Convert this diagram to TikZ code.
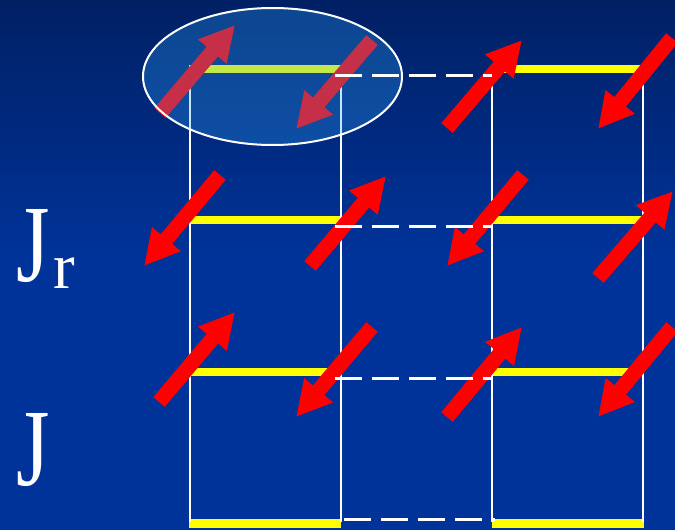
\documentclass[tikz,border=0pt]{standalone}
\usepackage{fontspec}
\setmainfont{Liberation Serif}
\usetikzlibrary{arrows.meta}
\definecolor{bgtop}{RGB}{0,32,100}
\definecolor{bgbot}{RGB}{0,51,153}
\definecolor{spinred}{RGB}{255,0,0}
\definecolor{rungyellow}{RGB}{255,255,0}
\definecolor{lensfill}{RGB}{50,170,255}
\begin{document}
\begin{tikzpicture}[x=1pt,y=-1pt,
  rail/.style={draw=white, line width=2pt},
  rung/.style={draw=rungyellow, line width=8.5pt},
  bond/.style={draw=white, line width=3pt, dash pattern=on 27pt off 10pt},
  spin/.style={draw=spinred, line width=15pt, -{Triangle[length=35pt,width=35pt]}},
  label/.style={text=white, inner sep=0pt, anchor=base west}]
% background
\fill[bgbot] (0,0) rectangle (675,530);
\shade[top color=bgtop, bottom color=bgbot] (0,0) rectangle (675,260);
\useasboundingbox (0,0) rectangle (675,530);
% rails
\foreach \n/\x in {a/190,b/341,c/492,d/643}{
  \coordinate (\n top) at (\x,80);
  \coordinate (\n bot) at (\x,522);
}
% rung ends
\foreach \r/\y in {1/69,2/220,3/372,4/523.5}{
  \coordinate (ra\r) at (189,\y);
  \coordinate (rb\r) at (341,\y);
  \coordinate (rc\r) at (492,\y);
  \coordinate (rd\r) at (644,\y);
}
% bond ends
\foreach \r/\y in {1/75,2/226,3/378}{
  \coordinate (ba\r) at (335,\y);
  \coordinate (bb\r) at (492,\y);
}
\coordinate (ba4) at (344,519);
\coordinate (bb4) at (495,519);
% spin tails and tips
\coordinate (s1a) at (160,113); \coordinate (t1a) at (235,25);
\coordinate (s1b) at (372,40);  \coordinate (t1b) at (296,129);
\coordinate (s1c) at (447,128); \coordinate (t1c) at (522,40);
\coordinate (s1d) at (672,38);  \coordinate (t1d) at (598,129);
\coordinate (s2a) at (220,175); \coordinate (t2a) at (144,266);
\coordinate (s2b) at (310,266); \coordinate (t2b) at (386,176);
\coordinate (s2c) at (523,175); \coordinate (t2c) at (447,266);
\coordinate (s2d) at (598,278); \coordinate (t2d) at (673,191);
\coordinate (s3a) at (159,402); \coordinate (t3a) at (235,312);
\coordinate (s3b) at (372,327); \coordinate (t3b) at (296,417);
\coordinate (s3c) at (447,417); \coordinate (t3c) at (522,327);
\coordinate (s3d) at (672,327); \coordinate (t3d) at (598,417);
\coordinate (lensc) at (272.5,76.5);
% drawing
\foreach \r in {1,2,3,4}{
  \draw[rung] (ra\r) -- (rb\r);
  \draw[rung] (rc\r) -- (rd\r);
}
\foreach \n in {a,b,c,d}{ \draw[rail] (\n top) -- (\n bot); }
\foreach \r in {1,2,3}{
  \foreach \n in {a,b,c,d}{ \draw[spin] (s\r\n) -- (t\r\n); }
}
\fill[lensfill, opacity=0.28] (lensc) ellipse [x radius=129.5pt, y radius=68.5pt];
\draw[white, line width=2pt] (lensc) ellipse [x radius=129.5pt, y radius=68.5pt];
\foreach \r in {1,2,3,4}{ \draw[bond] (ba\r) -- (bb\r); }
% labels
\node[label, font=\fontsize{110}{120}\selectfont, xscale=0.78] (jr) at (16,281) {J};
\node[label, font=\fontsize{65}{72}\selectfont] (r) at (53,288) {r};
\node[label, font=\fontsize{110}{120}\selectfont, xscale=0.78] (j) at (16,485) {J};
\end{tikzpicture}
\end{document}
